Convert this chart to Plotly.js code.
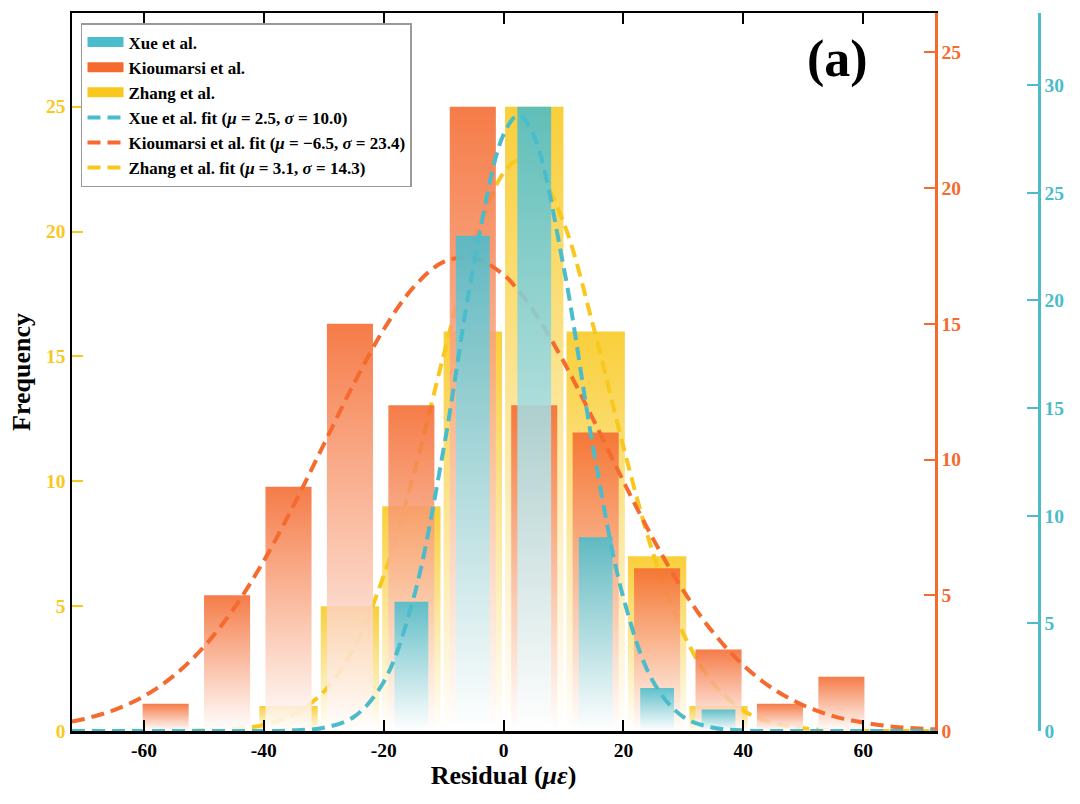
<!DOCTYPE html>
<html><head><meta charset="utf-8">
<script src="https://cdn.plot.ly/plotly-3.0.1.min.js"></script>
<style>html,body{margin:0;padding:0;background:#fff}#chart{width:1080px;height:804px}</style>
</head><body><div id="chart"></div>
<script>
// ---- data ----
const binCenters = [-56.375,-46.125,-35.875,-25.625,-15.375,-5.125,5.125,15.375,25.625,35.875,46.125,56.375];
const binWidth = 10.25;
const xueCounts       = [0,0,0,0,6,23,29,9,2,1,0,0];
const kioumarsiCounts = [1,5,9,15,12,23,12,11,6,3,1,2];
const zhangCounts     = [0,0,1,5,9,16,25,16,7,1,0,0];

const fitX = [-72,-70,-65,-60,-55,-50,-45,-40,-35,-30,-25,-20,-15,-10,-5,0,2.5,5,10,15,20,25,30,35,40,45,50,55,60,65,70,72];
const xueFit       = [0,0,0,0,0,0,0,0,0.03,0.15,0.65,2.28,6.19,13.1,21.6,27.7,28.6,27.7,21.6,13.1,6.19,2.28,0.65,0.15,0.03,0,0,0,0,0,0,0];
const kioumarsiFit = [0.35,0.44,0.77,1.28,2.04,3.10,4.51,6.27,8.32,10.55,12.78,14.79,16.35,17.28,17.43,16.81,16.22,15.48,13.62,11.46,9.20,7.06,5.17,3.62,2.43,1.55,0.95,0.55,0.31,0.16,0.08,0.06];
const zhangFit     = [0,0,0,0,0,0.02,0.08,0.24,0.66,1.57,3.32,6.21,10.27,15.04,19.49,22.35,22.86,22.68,20.37,16.19,11.38,7.08,3.90,1.90,0.82,0.31,0.11,0.03,0,0,0,0];

const seriesNames = ['Xue et al.','Kioumarsi et al.','Zhang et al.'];
const fitNames = ['Xue et al. fit (<i>μ</i> = 2.5, <i>σ</i> = 10.0)',
                  'Kioumarsi et al. fit (<i>μ</i> = −6.5, <i>σ</i> = 23.4)',
                  'Zhang et al. fit (<i>μ</i> = 3.1, <i>σ</i> = 14.3)'];
const xTickVals = [-60,-40,-20,0,20,40,60];
const xTickText = ['-60','-40','-20','0','20','40','60'];
const yTickVals = [0,5,10,15,20,25];
const y3TickVals = [0,5,10,15,20,25,30];

// ---- styles ----
const TEAL = [75,188,203], ORANGE = [244,106,47], YELLOW = [248,200,30];
const rgb = c => `rgb(${c[0]},${c[1]},${c[2]})`;
const rgba = (c,a) => `rgba(${c[0]},${c[1]},${c[2]},${a})`;
const FONT = '"Liberation Serif", "Times New Roman", Times, serif';

function barTraces(counts, col, widthFrac, yaxis){
  const out = [];
  const w = binWidth*widthFrac;
  counts.forEach((v,i)=>{
    if(!v) return;
    const c = binCenters[i];
    out.push({
      type:'scatter', mode:'lines', yaxis:yaxis, xaxis:'x',
      x:[c-w/2, c-w/2, c+w/2, c+w/2, c-w/2],
      y:[0, v, v, 0, 0],
      fill:'toself',
      fillgradient:{type:'vertical', colorscale:[[0,'rgba(255,255,255,0.85)'],[1,rgba(col,0.88)]]},
      line:{width:0, color:'rgba(0,0,0,0)'},
      hoverinfo:'skip', showlegend:false
    });
  });
  return out;
}
function fitTrace(y, col, name, yaxis, rank){
  return {type:'scatter', mode:'lines', x:fitX, y:y, yaxis:yaxis, name:name,
    line:{color:rgb(col), width:4, dash:'13px,7px', shape:'spline'}, legendrank:rank};
}
function legendProxy(col, name, rank){
  return {type:'scatter', mode:'lines', x:[null], y:[null], name:name,
    line:{color:rgb(col), width:12}, legendrank:rank};
}

const data = [].concat(
  barTraces(zhangCounts, YELLOW, 0.95, 'y'),
  [fitTrace(zhangFit, YELLOW, fitNames[2], 'y', 6)],
  barTraces(kioumarsiCounts, ORANGE, 0.75, 'y2'),
  [fitTrace(kioumarsiFit, ORANGE, fitNames[1], 'y2', 5)],
  barTraces(xueCounts, TEAL, 0.55, 'y3'),
  [fitTrace(xueFit, TEAL, fitNames[0], 'y3', 4)],
  [legendProxy(TEAL, seriesNames[0], 1), legendProxy(ORANGE, seriesNames[1], 2), legendProxy(YELLOW, seriesNames[2], 3)]
);

const tickFont = (col)=>({family:FONT, size:19.5, color:col, weight:'bold'});
const layout = {
  width:1080, height:804,
  margin:{l:72, r:41, t:13, b:73},
  paper_bgcolor:'#fff', plot_bgcolor:'rgba(0,0,0,0)',
  font:{family:FONT, size:18, color:'#000'},
  showlegend:true,
  xaxis:{domain:[0,0.8925], range:[-72,72], tickmode:'array', tickvals:xTickVals, ticktext:xTickText,
    ticks:'inside', ticklen:11, tickwidth:2, tickcolor:'#000', showline:true, linecolor:'#000', linewidth:2.5,
    mirror:'ticks', showgrid:false, zeroline:false, tickfont:tickFont('#000'),
    title:{text:'<b>Residual (<i>με</i>)</b>', font:{family:FONT, size:26, color:'#000'}, standoff:6}},
  yaxis:{range:[0,28.75], tickmode:'array', tickvals:yTickVals, ticks:'inside', ticklen:11, tickwidth:2,
    tickcolor:rgb(YELLOW), showline:true, linecolor:'#000', linewidth:2.5, showgrid:false, zeroline:false,
    tickfont:tickFont(rgb(YELLOW)),
    title:{text:'<b>Frequency</b>', font:{family:FONT, size:26, color:'#000'}, standoff:8}},
  yaxis2:{overlaying:'y', side:'right', anchor:'x', range:[0,26.45], tickmode:'array', tickvals:yTickVals,
    ticks:'inside', ticklen:11, tickwidth:2, tickcolor:rgb(ORANGE), showline:true, linecolor:rgb(ORANGE), linewidth:2.5,
    showgrid:false, zeroline:false, tickfont:tickFont(rgb(ORANGE))},
  yaxis3:{overlaying:'y', side:'right', anchor:'free', position:1, range:[0,33.35], tickmode:'array', tickvals:y3TickVals,
    ticks:'inside', ticklen:11, tickwidth:2, tickcolor:rgb(TEAL), showline:true, linecolor:rgb(TEAL), linewidth:2.5,
    showgrid:false, zeroline:false, tickfont:tickFont(rgb(TEAL))},
  legend:{x:0.0093, y:0.986, xanchor:'left', yanchor:'top', bgcolor:'rgba(255,255,255,0.85)',
    bordercolor:'#9a9a9a', borderwidth:1.5, font:{family:FONT, size:17, color:'#000', weight:'bold'},
    itemwidth:36, traceorder:'normal'},
  annotations:[{xref:'paper', yref:'paper', x:0.792, y:0.936, xanchor:'center', yanchor:'middle', showarrow:false,
    text:'<b>(a)</b>', font:{family:FONT, size:52, color:'#000'}}]
};
Plotly.newPlot('chart', data, layout, {displayModeBar:false, staticPlot:true});
</script></body></html>
